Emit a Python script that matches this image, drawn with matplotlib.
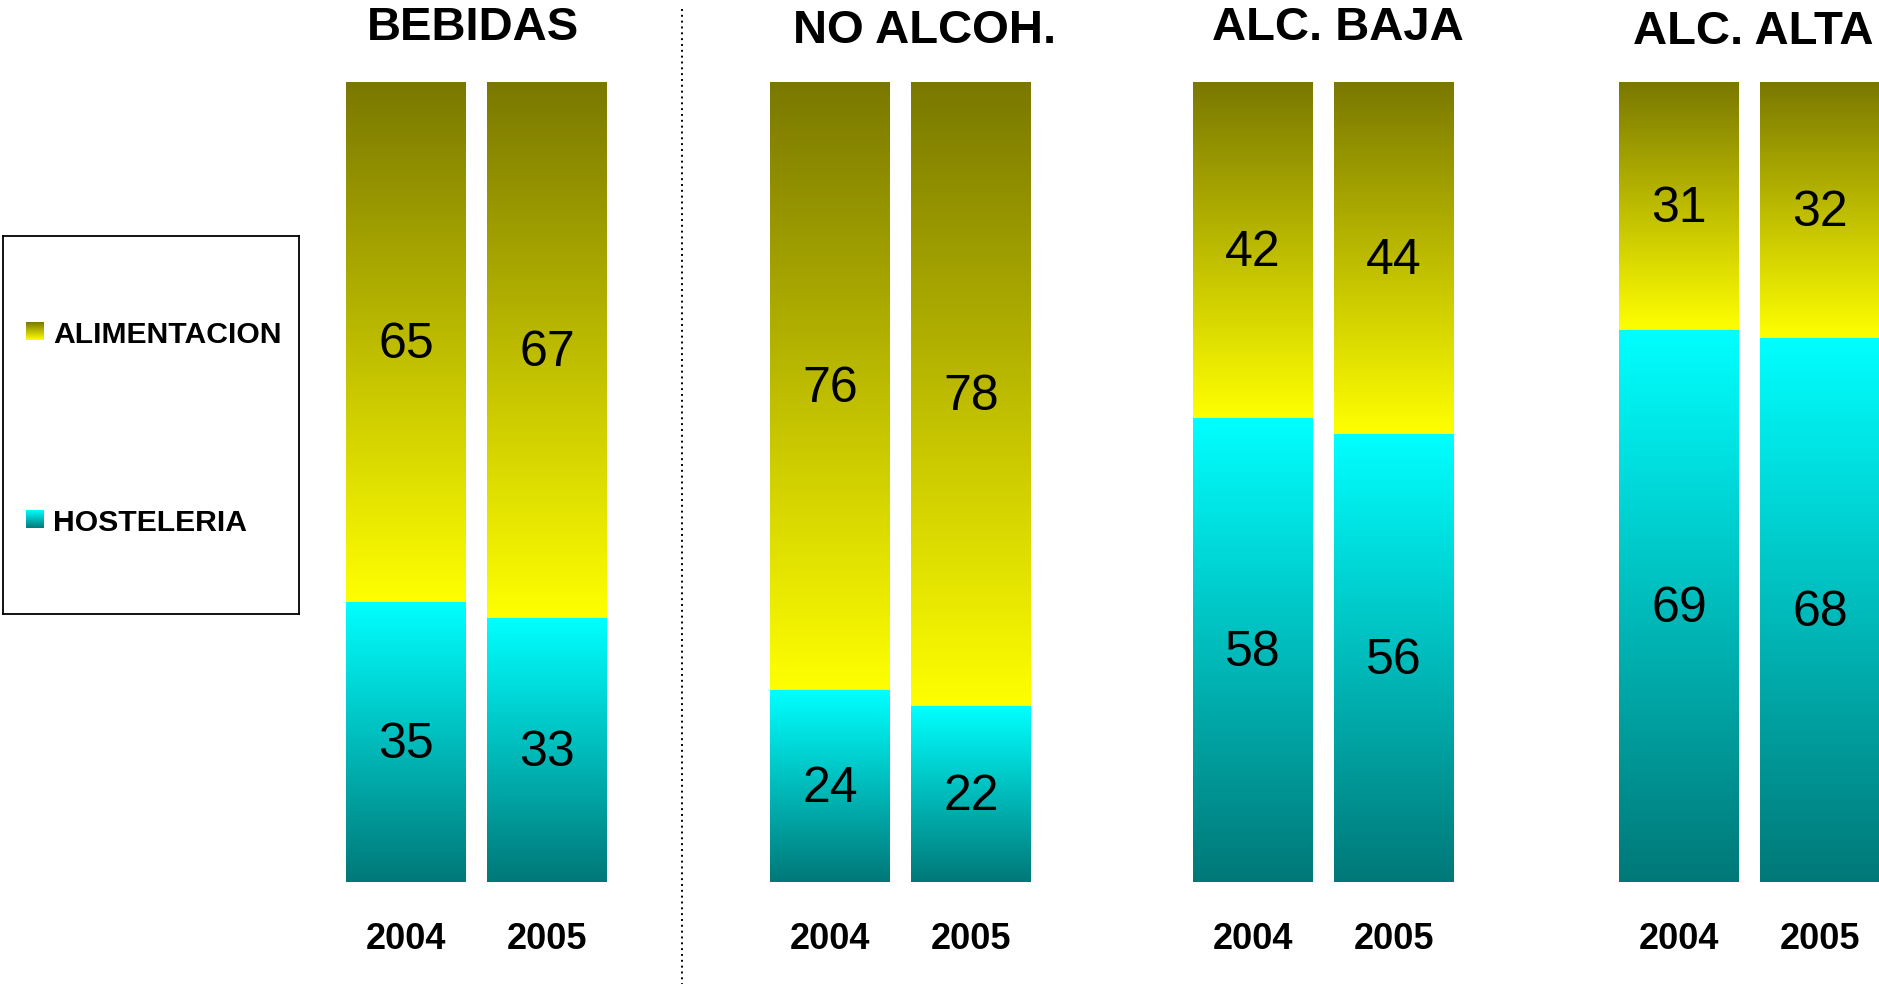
import numpy as np
import matplotlib
matplotlib.use("Agg")
import matplotlib.pyplot as plt
from matplotlib.colors import LinearSegmentedColormap

plt.rcParams['font.family'] = ['Liberation Sans', 'DejaVu Sans']

# datos
grupos = ["BEBIDAS", "NO ALCOH.", "ALC. BAJA", "ALC. ALTA"]
anios = ["2004", "2005"]
hosteleria = [[35, 33], [24, 22], [58, 56], [69, 68]]
alimentacion = [[65, 67], [76, 78], [42, 44], [31, 32]]
series = ["ALIMENTACION", "HOSTELERIA"]

W, H = 1879, 987
fig = plt.figure(figsize=(W / 100, H / 100), dpi=100)

# eje en pixeles horizontales, 0-100 vertical
ax = fig.add_axes([0, 1 - 883 / H, 1, 800 / H])
ax.set_xlim(0, W)
ax.set_ylim(0, 100)
ax.axis('off')

cmap_alim = LinearSegmentedColormap.from_list("alim", ["#ffff00", "#7a7800"])
cmap_host = LinearSegmentedColormap.from_list("host", ["#007878", "#00ffff"])
grad = np.linspace(0, 1, 256).reshape(-1, 1)

inicio_grupo = [346, 770, 1193, 1619]
paso_barra = 141
ancho = 120


def pintar_gradiente(ax, patches, cmap):
    for p in patches:
        x0, y0 = p.get_x(), p.get_y()
        w, h = p.get_width(), p.get_height()
        im = ax.imshow(grad, cmap=cmap, aspect='auto', origin='lower',
                       extent=(x0, x0 + w, y0, y0 + h), interpolation='bicubic', zorder=2)
        im.set_clip_path(p)


for i, g in enumerate(grupos):
    xs = [inicio_grupo[i] + j * paso_barra for j in range(len(anios))]
    b1 = ax.bar(xs, hosteleria[i], width=ancho, align='edge', color='none', linewidth=0)
    b2 = ax.bar(xs, alimentacion[i], bottom=hosteleria[i], width=ancho, align='edge',
                color='none', linewidth=0)
    pintar_gradiente(ax, b1, cmap_host)
    pintar_gradiente(ax, b2, cmap_alim)
    for j, x in enumerate(xs):
        cx = x + ancho / 2
        h = hosteleria[i][j]
        a = alimentacion[i][j]
        ax.annotate(str(h), (cx, h / 2), xytext=(0, -11), textcoords='offset points',
                    ha='center', va='baseline', fontsize=36, zorder=5)
        ax.annotate(str(a), (cx, h + a / 2), xytext=(0, -11), textcoords='offset points',
                    ha='center', va='baseline', fontsize=36, zorder=5)
        fig.text(cx / W, 1 - 949 / H, anios[j], ha='center', va='baseline',
                 fontsize=26, fontweight='bold')

# titulos
titulo_x = [473, 925, 1338, 1753]
titulo_y = [40, 43, 40, 44]
titulo_tam = [34, 34, 34, 34]
for t, x, y, s in zip(grupos, titulo_x, titulo_y, titulo_tam):
    fig.text(x / W, 1 - y / H, t, ha='center', va='baseline', fontsize=s, fontweight='bold')

# linea punteada
fig.add_artist(plt.Line2D([682 / W, 682 / W], [1 - 10 / H, 1 - 985 / H], color='black',
                          linewidth=1.4, linestyle=(0, (1, 2.0))))

# leyenda
lax = fig.add_axes([3 / W, 1 - 615 / H, 296 / W, 378 / H])
lax.set_xticks([])
lax.set_yticks([])
for sp in lax.spines.values():
    sp.set_linewidth(1.3)
leg_y = [86, 274]
for nombre, y, cm in zip(series, leg_y, [cmap_alim, cmap_host]):
    lax.imshow(grad[::-1], cmap=cm, aspect='auto', extent=(23, 41, y + 18, y),
               interpolation='bicubic')
    lax.text(50, y + 20, nombre, ha='left', va='baseline', fontsize=21.7, fontweight='bold')
lax.set_xlim(0, 296)
lax.set_ylim(378, 0)

fig.savefig("out.png", dpi=100)
